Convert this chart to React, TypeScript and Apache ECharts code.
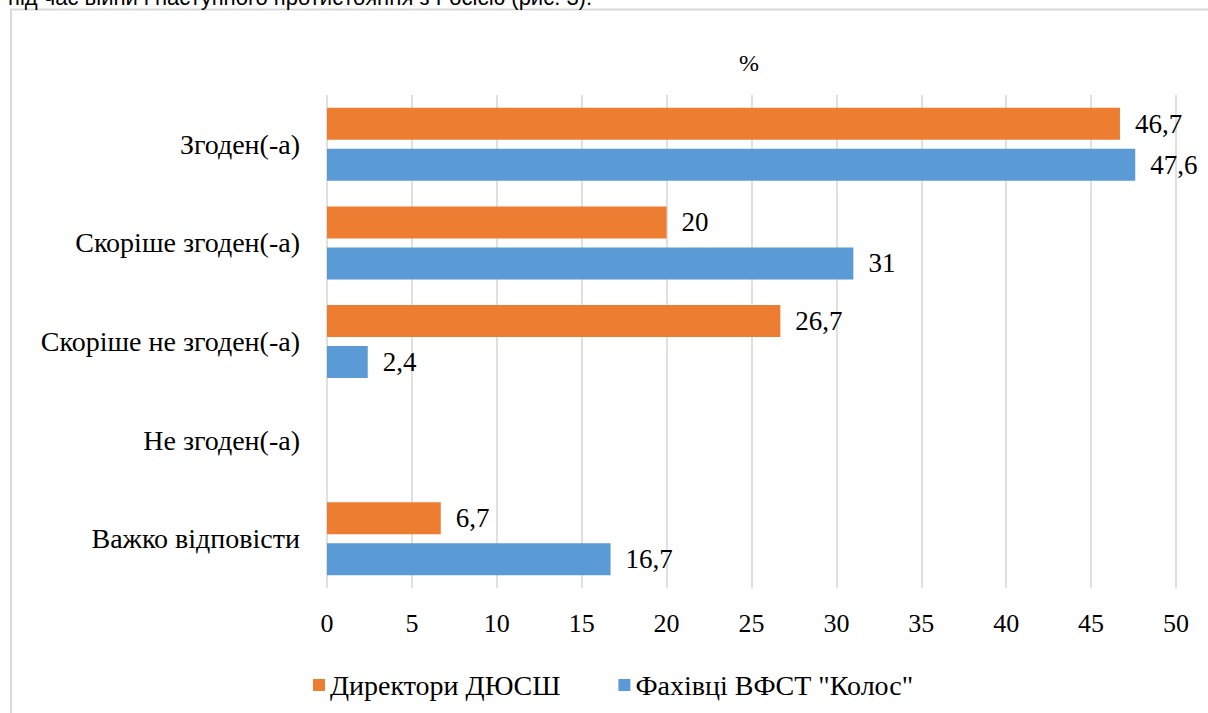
import React, { useEffect, useRef } from "react";
import * as echarts from "echarts";

const categories = ["Згоден(-а)", "Скоріше згоден(-а)", "Скоріше не згоден(-а)", "Не згоден(-а)", "Важко відповісти"];
const directors: (number | null)[] = [46.7, 20, 26.7, null, 6.7];
const specialists: (number | null)[] = [47.6, 31, 2.4, null, 16.7];
const seriesNames = ["Директори ДЮСШ", "Фахівці ВФСТ \"Колос\""];
const axisTicks = { min: 0, max: 50, interval: 5 };
const titleText = "%";
const captionText = "під час війни і наступного протистояння з Росією (рис. 3).";

const SERIF = "'Liberation Serif', 'Times New Roman', serif";

export default function App() {
  const ref = useRef<HTMLDivElement>(null);
  useEffect(() => {
    if (!ref.current) return;
    const chart = echarts.init(ref.current, undefined, { renderer: "svg" });
    const fmt = (p: any) => String(p.value).replace(".", ",");
    chart.setOption({
      animation: false,
      backgroundColor: "#ffffff",
      title: {
        text: titleText,
        left: 744,
        top: 46,
        textAlign: "center",
        textStyle: { fontFamily: SERIF, fontSize: 24, fontWeight: "normal", color: "#000" },
      },
      graphic: [
        {
          type: "rect",
          shape: { x: 11, y: 9.5, width: 1300, height: 800 },
          style: { fill: "none", stroke: "#d9d9d9", lineWidth: 2 },
          silent: true,
        },
        {
          type: "text",
          x: 8,
          y: 8,
          style: {
            text: captionText,
            font: "22px Arial, 'Liberation Sans', sans-serif",
            fill: "#000",
            verticalAlign: "bottom",
          },
          silent: true,
        },
      ],
      legend: {
        left: 308,
        top: 666,
        icon: "rect",
        itemWidth: 12,
        itemHeight: 12,
        itemGap: 58,
        textStyle: { fontFamily: SERIF, fontSize: 28, color: "#000" },
        data: seriesNames,
      },
      grid: { left: 327, right: 32, top: 95, bottom: 125, containLabel: false },
      xAxis: {
        type: "value",
        min: axisTicks.min,
        max: axisTicks.max,
        interval: axisTicks.interval,
        axisLine: { show: false },
        axisTick: { show: false },
        splitLine: { show: true, lineStyle: { color: "#d9d9d9", width: 1.6 } },
        axisLabel: { fontFamily: SERIF, fontSize: 26, color: "#000", margin: 22 },
      },
      yAxis: {
        type: "category",
        inverse: true,
        data: categories,
        axisLine: { show: false },
        axisTick: { show: false },
        axisLabel: { fontFamily: SERIF, fontSize: 28, color: "#000", margin: 27 },
      },
      series: [
        {
          name: seriesNames[0],
          type: "bar",
          data: directors,
          barWidth: 32,
          barGap: "28%",
          itemStyle: { color: "#ED7D31" },
          label: { show: true, position: "right", distance: 15, fontFamily: SERIF, fontSize: 27, color: "#000", formatter: fmt },
        },
        {
          name: seriesNames[1],
          type: "bar",
          data: specialists,
          barWidth: 32,
          barGap: "28%",
          itemStyle: { color: "#5B9BD5" },
          label: { show: true, position: "right", distance: 15, fontFamily: SERIF, fontSize: 27, color: "#000", formatter: fmt },
        },
      ],
    });
    return () => chart.dispose();
  }, []);
  return (
    <div style={{ position: "absolute", left: 0, top: 0, width: 1208, height: 713, overflow: "hidden" }}>
      <div ref={ref} style={{ width: 1208, height: 713 }} />
    </div>
  );
}
